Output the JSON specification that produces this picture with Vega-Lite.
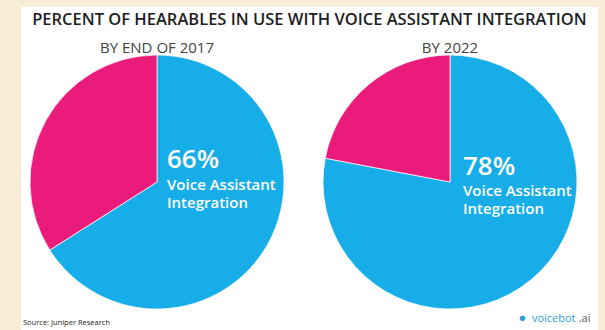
{
  "$schema": "https://vega.github.io/schema/vega-lite/v6.json",
  "width": 577,
  "height": 350,
  "autosize": "none",
  "padding": {"left": 21, "top": 7, "right": 7, "bottom": 0},
  "background": "#f8eed8",
  "config": {"view": {"fill": "white", "stroke": null}, "font": "Open Sans"},
  "title": {
    "text": "PERCENT OF HEARABLES IN USE WITH VOICE ASSISTANT INTEGRATION",
    "offset": -21,
    "fontSize": 16.5,
    "font": "Open Sans",
    "fontWeight": 600,
    "color": "#1e1e1e",
    "anchor": "middle"
  },
  "datasets": {
    "pies": [
      {"chart": "BY END OF 2017", "segment": "Voice Assistant Integration", "value": 66, "label": "66%", "order": 1},
      {"chart": "BY END OF 2017", "segment": "Other", "value": 34, "label": "34%", "order": 2},
      {"chart": "BY 2022", "segment": "Voice Assistant Integration", "value": 78, "label": "78%", "order": 1},
      {"chart": "BY 2022", "segment": "Other", "value": 22, "label": "22%", "order": 2}
    ]
  },
  "data": {"name": "pies"},
  "encoding": {
    "x": {
      "field": "chart",
      "type": "nominal",
      "scale": {"type": "point", "padding": 0, "domain": ["BY END OF 2017", "BY 2022"], "range": [136, 429]},
      "axis": null
    }
  },
  "layer": [
    {
      "transform": [
        {"stack": "value", "groupby": ["chart"], "sort": [{"field": "order"}], "as": ["v0", "v1"]}
      ],
      "mark": {"type": "arc", "outerRadius": 127, "stroke": "white", "strokeWidth": 0.7},
      "encoding": {
        "theta": {"field": "v0", "type": "quantitative", "scale": {"domain": [0, 100]}},
        "theta2": {"field": "v1"},
        "color": {
          "field": "segment",
          "type": "nominal",
          "scale": {"domain": ["Voice Assistant Integration", "Other"], "range": ["#17ade9", "#ea1b7b"]},
          "legend": null
        }
      }
    },
    {
      "transform": [{"filter": "datum.order == 1"}],
      "mark": {"type": "text", "dy": -134.5, "baseline": "middle", "align": "center", "fontSize": 15, "color": "#444444"},
      "encoding": {"text": {"field": "chart"}}
    },
    {
      "transform": [{"filter": "datum.order == 1 && datum.chart == 'BY END OF 2017'"}],
      "mark": {"type": "text", "dx": 10, "dy": -22, "baseline": "middle", "align": "left", "fontSize": 26, "fontWeight": 600, "color": "white"},
      "encoding": {"text": {"field": "label"}}
    },
    {
      "transform": [{"filter": "datum.order == 1 && datum.chart == 'BY 2022'"}],
      "mark": {"type": "text", "dx": 13, "dy": -15.5, "baseline": "middle", "align": "left", "fontSize": 26, "fontWeight": 600, "color": "white"},
      "encoding": {"text": {"field": "label"}}
    },
    {
      "transform": [{"filter": "datum.order == 1 && datum.chart == 'BY END OF 2017'"}],
      "mark": {"type": "text", "dx": 10, "dy": 8, "baseline": "alphabetic", "align": "left", "fontSize": 15, "fontWeight": 600, "color": "white", "lineHeight": 18, "text": ["Voice Assistant", "Integration"]},
      "encoding": {}
    },
    {
      "transform": [{"filter": "datum.order == 1 && datum.chart == 'BY 2022'"}],
      "mark": {"type": "text", "dx": 13, "dy": 14, "baseline": "alphabetic", "align": "left", "fontSize": 15, "fontWeight": 600, "color": "white", "lineHeight": 18, "text": ["Voice Assistant", "Integration"]},
      "encoding": {}
    },
    {
      "data": {"values": [{"note": "Source: Juniper Research"}]},
      "mark": {"type": "text", "dx": -286.5, "dy": 143, "baseline": "alphabetic", "align": "left", "fontSize": 7.5, "color": "#222222"},
      "encoding": {"x": {"value": 288.5}, "text": {"field": "note"}}
    },
    {
      "data": {"values": [{"brand": "voicebot"}]},
      "mark": {"type": "text", "dx": 266, "dy": 140, "baseline": "alphabetic", "align": "right", "fontSize": 11, "color": "#2e9fd8"},
      "encoding": {"x": {"value": 288.5}, "text": {"field": "brand"}}
    },
    {
      "data": {"values": [{"brand": ".ai"}]},
      "mark": {"type": "text", "dx": 281, "dy": 140, "baseline": "alphabetic", "align": "right", "fontSize": 11, "color": "#555555"},
      "encoding": {"x": {"value": 288.5}, "text": {"field": "brand"}}
    },
    {
      "data": {"values": [{"icon": "●"}]},
      "mark": {"type": "text", "dx": 213, "dy": 136, "baseline": "middle", "align": "center", "fontSize": 13, "color": "#2e9fd8"},
      "encoding": {"x": {"value": 288.5}, "text": {"field": "icon"}}
    }
  ]
}
